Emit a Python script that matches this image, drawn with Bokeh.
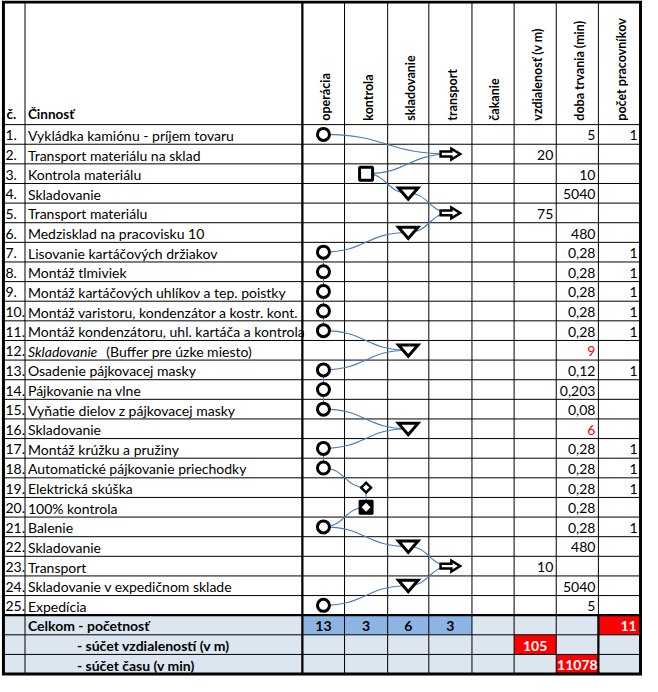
from bokeh.plotting import figure
from bokeh.models import Range1d
from bokeh.core.properties import value
from bokeh.embed import file_html
from bokeh.resources import INLINE

# ---------------- data ----------------
stlpce = ["operácia", "kontrola", "skladovanie", "transport", "čakanie",
          "vzdialenosť (v m)", "doba trvania (min)", "počet pracovníkov"]

cinnost = [
    "Vykládka kamiónu - príjem tovaru",
    "Transport materiálu na sklad",
    "Kontrola materiálu",
    "Skladovanie",
    "Transport materiálu",
    "Medzisklad na pracovisku 10",
    "Lisovanie kartáčových držiakov",
    "Montáž tlmiviek",
    "Montáž kartáčových uhlíkov a tep. poistky",
    "Montáž varistoru, kondenzátor a kostr. kont.",
    "Montáž kondenzátoru, uhl. kartáča a kontrola",
    "Skladovanie (Buffer pre úzke miesto)",
    "Osadenie pájkovacej masky",
    "Pájkovanie na vlne",
    "Vyňatie dielov z pájkovacej masky",
    "Skladovanie",
    "Montáž krúžku a pružiny",
    "Automatické pájkovanie priechodky",
    "Elektrická skúška",
    "100% kontrola",
    "Balenie",
    "Skladovanie",
    "Transport",
    "Skladovanie v expedičnom sklade",
    "Expedícia",
]

# column (category) of the symbol in each row
kategoria = ["operácia", "transport", "kontrola", "skladovanie", "transport", "skladovanie",
             "operácia", "operácia", "operácia", "operácia", "operácia", "skladovanie",
             "operácia", "operácia", "operácia", "skladovanie", "operácia", "operácia",
             "kontrola", "kontrola", "operácia", "skladovanie", "transport", "skladovanie",
             "operácia"]

# symbol drawn in each row
symbol = ["circle", "arrow", "square", "triangle", "arrow", "triangle",
          "circle", "circle", "circle", "circle", "circle", "triangle",
          "circle", "circle", "circle", "triangle", "circle", "circle",
          "diamond", "boxed", "circle", "triangle", "arrow", "triangle",
          "circle"]

vzdialenost = [None, 20, None, None, 75, None, None, None, None, None, None, None,
               None, None, None, None, None, None, None, None, None, None, 10, None, None]

doba = [5, None, 10, 5040, None, 480, 0.28, 0.28, 0.28, 0.28, 0.28, 9,
        0.12, 0.203, 0.08, 6, 0.28, 0.28, 0.28, 0.28, 0.28, 480, None, 5040, 5]

pracovnici = [1, None, None, None, None, None, 1, 1, 1, 1, 1, None,
              1, None, None, None, 1, 1, 1, None, 1, None, None, None, None]

# ---------------- style / layout ----------------
FONT = "Lato"
FS = "14px"
COLX = [5, 27, 310, 353, 397, 439, 483, 526, 569, 612, 655]
TOP, HEAD_BOTTOM, RH = 3, 128, 20
N = len(cinnost)
DATA_BOTTOM = HEAD_BOTTOM + N * RH
BOTTOM = DATA_BOTTOM + 3 * RH
RED_ROWS = {12, 16}
ITALIC_PREFIX = {12: "Skladovanie"}
ITALIC_OFFSET = 80
LINE_BLUE = "#4A7EBB"
SUM_BG = "#DCE6F1"
CNT_BG = "#8DB4E2"
RED = "#FF0000"

p = figure(width=642, height=676, x_range=Range1d(2, 657), y_range=Range1d(690.5, 1.5),
           output_backend="svg", toolbar_location=None, min_border=0,
           x_axis_location=None, y_axis_location=None)
p.grid.visible = False
p.outline_line_color = None
p.background_fill_color = "white"


def colc(i):
    return (COLX[i] + COLX[i + 1]) / 2


def rowc(r):
    return HEAD_BOTTOM + r * RH + RH / 2


cat_idx = {c: i + 2 for i, c in enumerate(stlpce)}

# ---------------- backgrounds ----------------
p.quad(left=[COLX[0]], right=[COLX[-1]], top=[DATA_BOTTOM], bottom=[BOTTOM],
       fill_color=SUM_BG, line_color=None)
p.quad(left=[COLX[2]], right=[COLX[6]], top=[DATA_BOTTOM], bottom=[DATA_BOTTOM + RH],
       fill_color=CNT_BG, line_color=None)
p.quad(left=[COLX[9], COLX[7], COLX[8]], right=[COLX[10], COLX[8], COLX[9]],
       top=[DATA_BOTTOM, DATA_BOTTOM + RH, DATA_BOTTOM + 2 * RH],
       bottom=[DATA_BOTTOM + RH, DATA_BOTTOM + 2 * RH, DATA_BOTTOM + 3 * RH],
       fill_color=RED, line_color=None)

# ---------------- grid ----------------
hy = [HEAD_BOTTOM + k * RH for k in range(N + 3)]
p.segment(x0=[COLX[0]] * len(hy), x1=[COLX[-1]] * len(hy), y0=hy, y1=hy,
          line_color="black", line_width=1)
p.segment(x0=COLX, x1=COLX, y0=[TOP] * len(COLX), y1=[BOTTOM] * len(COLX),
          line_color="black", line_width=1)
# thick lines
p.segment(x0=[COLX[2], COLX[9], COLX[0]], x1=[COLX[2], COLX[9], COLX[-1]],
          y0=[TOP, DATA_BOTTOM, DATA_BOTTOM], y1=[BOTTOM, BOTTOM, DATA_BOTTOM],
          line_color="black", line_width=2.2)
p.quad(left=[COLX[0]], right=[COLX[-1]], top=[TOP], bottom=[BOTTOM],
       fill_color=None, line_color="black", line_width=3, line_join="miter")

# ---------------- header ----------------
p.text(x=[8], y=[117], text=["č."], text_font=value(FONT), text_font_size="13.5px",
       text_font_style="bold", text_baseline="middle", text_color="black")
p.text(x=[30], y=[117], text=["Činnosť"], text_font=value(FONT), text_font_size="13.5px",
       text_font_style="bold", text_baseline="middle", text_color="black")
p.text(x=[colc(i + 2) + 2 for i in range(len(stlpce))], y=[124] * len(stlpce), text=stlpce,
       angle=1.5707963, text_font=value(FONT), text_font_size="12.5px", text_font_style="bold",
       text_align="left", text_baseline="middle", text_color="black")

# ---------------- rows text ----------------
ys = [rowc(r) + 1 for r in range(N)]
p.text(x=[7] * N, y=ys, text=[f"{r + 1}." for r in range(N)], text_font=value(FONT),
       text_font_size=FS, text_baseline="middle", text_color="black")
normal_txt, normal_x, normal_y = [], [], []
for r, t in enumerate(cinnost):
    pre = ITALIC_PREFIX.get(r + 1)
    if pre:
        p.text(x=[30], y=[ys[r]], text=[pre], text_font=value(FONT), text_font_size=FS,
               text_font_style="italic", text_baseline="middle", text_color="black")
        normal_txt.append(t[len(pre):].strip())
        normal_x.append(30 + ITALIC_OFFSET)
    else:
        normal_txt.append(t)
        normal_x.append(30)
    normal_y.append(ys[r])
p.text(x=normal_x, y=normal_y, text=normal_txt, text_font=value(FONT), text_font_size=FS,
       text_baseline="middle", text_color="black")


def fmt(v):
    if v is None:
        return ""
    if float(v).is_integer():
        return str(int(v))
    return str(v).replace(".", ",")


for col, vals in ((7, vzdialenost), (8, doba), (9, pracovnici)):
    xs_, ys_, ts_, cs_ = [], [], [], []
    for r, v in enumerate(vals):
        if v is None:
            continue
        xs_.append(COLX[col + 1] - 3)
        ys_.append(ys[r])
        ts_.append(fmt(v))
        cs_.append(RED if (col == 8 and (r + 1) in RED_ROWS) else "black")
    p.text(x=xs_, y=ys_, text=ts_, text_color=cs_, text_font=value(FONT),
           text_font_size=FS, text_align="right", text_baseline="middle")

# ---------------- connectors ----------------
cx = [colc(cat_idx[k]) for k in kategoria]
cy = [rowc(r) for r in range(N)]
sx0, sy0, sx1, sy1 = [], [], [], []
bx0, by0, bx1, by1, bcx0, bcy0, bcx1, bcy1 = [], [], [], [], [], [], [], []
for i in range(N - 1):
    if kategoria[i] == kategoria[i + 1]:
        sx0.append(cx[i]); sy0.append(cy[i]); sx1.append(cx[i + 1]); sy1.append(cy[i + 1])
    else:
        mx = (cx[i] + cx[i + 1]) / 2
        bx0.append(cx[i]); by0.append(cy[i]); bx1.append(cx[i + 1]); by1.append(cy[i + 1])
        bcx0.append(mx); bcy0.append(cy[i]); bcx1.append(mx); bcy1.append(cy[i + 1])
p.segment(x0=sx0, y0=sy0, x1=sx1, y1=sy1, line_color=LINE_BLUE, line_width=1.1)
p.bezier(x0=bx0, y0=by0, x1=bx1, y1=by1, cx0=bcx0, cy0=bcy0, cx1=bcx1, cy1=bcy1,
         line_color=LINE_BLUE, line_width=1.1)

# ---------------- symbols ----------------
def pts(kind):
    return [(cx[i], cy[i]) for i in range(N) if symbol[i] == kind]


c = pts("circle")
p.scatter(x=[a for a, b in c], y=[b for a, b in c], marker="circle", size=12,
          fill_color="white", line_color="black", line_width=3)
s = pts("square")
p.scatter(x=[a for a, b in s], y=[b for a, b in s], marker="square", size=13,
          fill_color="white", line_color="black", line_width=3)

tri_xs, tri_ys = [], []
for (x, y) in pts("triangle"):
    tri_xs.append([x - 10, x + 10, x])
    tri_ys.append([y - 5.5, y - 5.5, y + 6])
p.patches(xs=tri_xs, ys=tri_ys, fill_color="white", line_color="black", line_width=3,
          line_join="miter")

ar_xs, ar_ys = [], []
for (x, y) in pts("arrow"):
    ar_xs.append([x - 10, x + 1, x + 1, x + 10, x + 1, x + 1, x - 10])
    ar_ys.append([y - 2.5, y - 2.5, y - 5.5, y, y + 5.5, y + 2.5, y + 2.5])
p.patches(xs=ar_xs, ys=ar_ys, fill_color="white", line_color="black", line_width=2.5,
          line_join="miter")

dm_xs, dm_ys = [], []
for (x, y) in pts("diamond"):
    dm_xs.append([x - 5, x, x + 5, x])
    dm_ys.append([y, y - 5, y, y + 5])
p.patches(xs=dm_xs, ys=dm_ys, fill_color="white", line_color="black", line_width=2.5,
          line_join="miter")

bx = pts("boxed")
p.scatter(x=[a for a, b in bx], y=[b for a, b in bx], marker="square", size=13,
          fill_color="black", line_color="black", line_width=2)
in_xs, in_ys = [], []
for (x, y) in bx:
    in_xs.append([x - 4.5, x, x + 4.5, x])
    in_ys.append([y, y - 4.5, y, y + 4.5])
p.patches(xs=in_xs, ys=in_ys, fill_color="white", line_color=None)

# ---------------- totals ----------------
counts = [sum(1 for k in kategoria if k == c_) for c_ in stlpce[:4]]
sum_dist = sum(v for v in vzdialenost if v is not None)
sum_time = sum(v for v in doba if v is not None)
sum_work = sum(v for v in pracovnici if v is not None)

r26, r27, r28 = DATA_BOTTOM + RH / 2 + 1, DATA_BOTTOM + 1.5 * RH + 1, DATA_BOTTOM + 2.5 * RH + 1
p.text(x=[colc(i + 2) for i in range(4)], y=[r26] * 4, text=[str(v) for v in counts],
       text_font=value(FONT), text_font_size=FS, text_font_style="bold",
       text_align="center", text_baseline="middle", text_color="black")
p.text(x=[colc(7), colc(8)], y=[r27, r28], text=[str(int(sum_dist)), str(int(round(sum_time)))],
       text_font=value(FONT), text_font_size=FS, text_font_style="bold",
       text_align="center", text_baseline="middle", text_color="white")
p.text(x=[COLX[10] - 4], y=[r26], text=[str(int(sum_work))],
       text_font=value(FONT), text_font_size=FS, text_font_style="bold",
       text_align="right", text_baseline="middle", text_color="white")
p.text(x=[30, 80, 80], y=[r26, r27, r28],
       text=["Celkom -  početnosť", "-  súčet vzdialeností (v m)", "-  súčet času (v min)"],
       text_font=value(FONT), text_font_size=FS, text_font_style="bold",
       text_baseline="middle", text_color="black")

open("out.html", "w").write(file_html(p, INLINE))
